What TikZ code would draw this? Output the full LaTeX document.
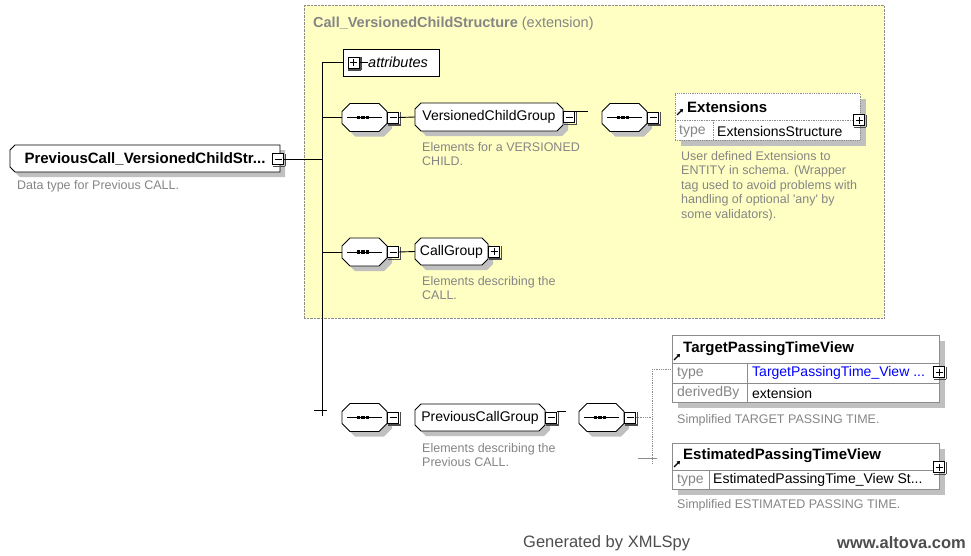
\documentclass[tikz,border=0pt]{standalone}
\usepackage{fontspec}
\setmainfont{Liberation Sans}
\usetikzlibrary{arrows.meta}
\definecolor{xsYellow}{HTML}{FFFFC4}
\definecolor{xsGray}{HTML}{858585}
\definecolor{xsGrid}{HTML}{8C8C8C}
\definecolor{xsShadow}{HTML}{C0C0C0}
\definecolor{xsBlue}{HTML}{0000FF}
\definecolor{xsFoot}{HTML}{4D4D4D}
% octagon with shadow: centre x, centre y, half width, half height, left cut, right cut
\newcommand{\xsoct}[6]{%
  \fill[xsShadow, xshift=5pt, yshift=-5pt] (#1-#3+#5,#2-#4) -- (#1+#3-#6,#2-#4) -- (#1+#3,#2-#4+#6) -- (#1+#3,#2+#4-#6)
    -- (#1+#3-#6,#2+#4) -- (#1-#3+#5,#2+#4) -- (#1-#3,#2+#4-#5) -- (#1-#3,#2-#4+#5) -- cycle;
  \filldraw[fill=white, draw=black, line width=0.8pt] (#1-#3+#5,#2-#4) -- (#1+#3-#6,#2-#4) -- (#1+#3,#2-#4+#6) -- (#1+#3,#2+#4-#6)
    -- (#1+#3-#6,#2+#4) -- (#1-#3+#5,#2+#4) -- (#1-#3,#2+#4-#5) -- (#1-#3,#2-#4+#5) -- cycle;
}
% sequence compositor
\newcommand{\xsseq}[2]{%
  \xsoct{#1}{#2}{22.5}{14}{8}{8}
  \draw[line width=0.9pt] (#1-17.5,#2) -- (#1+17.5,#2);
  \foreach \d in {-6,-1.5,3} \fill (#1+\d-1.6,#2-1.6) rectangle (#1+\d+1.6,#2+1.6);
}
\tikzset{
  xs frame/.style={draw=xsGrid, densely dotted, fill=xsYellow, inner sep=0pt},
  xs line/.style={draw=black, line width=0.9pt},
  xs grid/.style={draw=xsGrid, line width=0.7pt},
  xs dotline/.style={draw=xsGrid, densely dotted, line width=0.8pt},
  xs edge/.style={draw=black!70, line width=1.2pt},
  xs hold/.style={rectangle, inner sep=0pt},
  xs group/.style={xs hold, minimum height=28pt, font=\fontsize{14}{16}\selectfont},
  xs root/.style={xs hold, minimum width=270pt, minimum height=27pt, font=\fontsize{15}{17}\selectfont\bfseries},
  xs minus/.style={rectangle, draw, line width=0.7pt, fill=white, minimum size=11pt, inner sep=0pt,
    append after command={
      ([xshift=1.6pt,yshift=-0.4pt]\tikzlastnode.north east) edge[xs edge] ([xshift=1.6pt,yshift=-1.6pt]\tikzlastnode.south east)
      ([xshift=1.6pt,yshift=-1.6pt]\tikzlastnode.south east) edge[xs edge] ([xshift=0.4pt,yshift=-1.6pt]\tikzlastnode.south west)},
    path picture={\draw[line width=0.8pt] ([xshift=2pt]path picture bounding box.west) -- ([xshift=-2pt]path picture bounding box.east);}},
  xs plus/.style={xs minus,
    path picture={\draw[line width=0.8pt] ([xshift=2pt]path picture bounding box.west) -- ([xshift=-2pt]path picture bounding box.east);
      \draw[line width=0.8pt] ([yshift=-2pt]path picture bounding box.north) -- ([yshift=2pt]path picture bounding box.south);}},
  xs attr/.style={rectangle, draw, line width=0.8pt, fill=white, inner sep=0pt},
  xs elem/.style={rectangle, draw=xsGrid, line width=0.8pt, fill=white, inner sep=0pt},
  xs icon/.style={draw=black, line width=1.3pt, -{Triangle[length=3pt,width=4pt]}},
  xs label/.style={inner sep=0pt, font=\fontsize{14}{16}\selectfont},
  xs bold/.style={inner sep=0pt, font=\fontsize{15}{17}\selectfont\bfseries},
  xs desc/.style={inner sep=0pt, text=xsGray, align=left, font=\fontsize{12.5}{14.5}\selectfont},
  xs foot/.style={inner sep=0pt, text=xsFoot, font=\fontsize{16.5}{18}\selectfont},
}
\begin{document}
\begin{tikzpicture}[x=1pt,y=-1pt]
  \useasboundingbox (0,0) rectangle (971,555);

  % extension frame
  \node[xs frame, minimum width=580pt, minimum height=313pt] (cvcs) at (594,161.5) {};
  \node[inner sep=0pt, anchor=west, text=xsGray, font=\fontsize{14.5}{16}\selectfont] (cvcs title) at (313,24)
    {\textbf{Call\_VersionedChildStructure} (extension)};

  % root type
  \xsoct{145}{158.5}{135}{13.5}{5}{0}
  \node[xs root] (root) at (145,158.5) {PreviousCall\_VersionedChildStr...};
  \node[xs minus] (rootm) at (278,159) {};
  \node[xs desc, anchor=west] (root desc) at (17,186) {Data type for Previous CALL.};

  % trunk
  \coordinate (trunk top) at (322,62.5);
  \coordinate (trunk end) at (322,416);
  \coordinate (trunk cross) at (322,410);
  \draw[xs line] (trunk top) -- (trunk end);
  \draw[xs line] ([xshift=-8pt]trunk cross) -- ([xshift=5pt]trunk cross);
  \draw[xs line] (rootm.east) -- (rootm.east -| trunk top);

  % attributes
  \node[xs attr, minimum width=96pt, minimum height=27pt] (attr) at (391,62.5) {};
  \node[xs plus] (attrp) at (353.5,62.5) {};
  \node[xs label, anchor=west, font=\fontsize{14.5}{16}\selectfont\itshape] (attr lbl) at (368,62.5) {attributes};
  \draw[xs line] (attrp.east) -- (attr lbl.west);
  \draw[xs line] (attr.west -| trunk top) -- (attr.west);

  % versioned child group
  \xsseq{364.5}{117.5}
  \node[xs hold, minimum width=45pt, minimum height=28pt] (seqA) at (364.5,117.5) {};
  \node[xs minus, anchor=west] (seqAm) at (seqA.east) {};
  \draw[xs line] (seqA.west -| trunk top) -- (seqA.west);
  \xsoct{489}{117}{74}{14}{6}{6}
  \node[xs group, minimum width=148pt] (vcg) at (489,117) {VersionedChildGroup};
  \node[xs minus, anchor=west] (vcgm) at (vcg.east) {};
  \draw[xs line] (seqAm.east) -- (vcg.west);
  \coordinate (vcg stub) at (588,110);
  \draw[xs line] (vcgm.north east) -- (vcgm.north east -| vcg stub);
  \node[xs desc, anchor=north west] (vcg desc) at (422,142) {Elements for a VERSIONED\\CHILD.};

  \xsseq{624.5}{117.5}
  \node[xs hold, minimum width=45pt, minimum height=28pt] (seqB) at (624.5,117.5) {};
  \node[xs minus, anchor=west] (seqBm) at (seqB.east) {};

  % Extensions
  \fill[xsShadow] (681,99) rectangle (866,146);
  \node[xs elem, densely dotted, minimum width=185pt, minimum height=47pt] (ext) at (767.5,116.5) {};
  \draw[xs grid, densely dotted] (675,120) -- (860,120);
  \draw[xs grid, densely dotted] (713,120) -- (713,140);
  \node[xs plus] (extp) at (859,120) {};
  \draw[xs icon] (677,115) -- (683,109);
  \node[xs bold, anchor=west] (ext name) at (687,107) {Extensions};
  \node[xs label, text=xsGray, anchor=west] (ext type) at (679,131) {type};
  \node[xs label, anchor=west] (ext type val) at (717,131) {ExtensionsStructure};
  \node[xs desc, anchor=north west] (ext desc) at (681,151)
    {User defined Extensions to\\ENTITY in schema. (Wrapper\\tag used to avoid problems with\\handling of optional \textquotesingle any\textquotesingle{} by\\some validators).};

  % call group
  \xsseq{364.5}{252}
  \node[xs hold, minimum width=45pt, minimum height=28pt] (seqC) at (364.5,252) {};
  \node[xs minus, anchor=west] (seqCm) at (seqC.east) {};
  \draw[xs line] (seqC.west -| trunk top) -- (seqC.west);
  \xsoct{451.5}{251.5}{36.5}{13.5}{6}{6}
  \node[xs group, minimum width=73pt] (cg) at (451.5,251.5) {CallGroup};
  \node[xs plus, anchor=west] (cgp) at (cg.east) {};
  \draw[xs line] (seqCm.east) -- (cg.west);
  \node[xs desc, anchor=north west] (cg desc) at (422,276) {Elements describing the\\CALL.};

  % previous call group
  \xsseq{364.5}{417.5}
  \node[xs hold, minimum width=45pt, minimum height=28pt] (seqD) at (364.5,417.5) {};
  \node[xs minus, anchor=west] (seqDm) at (seqD.east) {};
  \xsoct{480}{417.5}{65}{13.5}{6}{6}
  \node[xs group, minimum width=130pt] (pcg) at (480,417.5) {PreviousCallGroup};
  \node[xs minus, anchor=west] (pcgm) at (pcg.east) {};
  \coordinate (pcg stub) at (566,410);
  \draw[xs line] (pcgm.north east) -- (pcgm.north east -| pcg stub);
  \node[xs desc, anchor=north west] (pcg desc) at (422,443) {Elements describing the\\Previous CALL.};

  \xsseq{601.5}{417.5}
  \node[xs hold, minimum width=45pt, minimum height=28pt] (seqE) at (601.5,417.5) {};
  \node[xs minus, anchor=west] (seqEm) at (seqE.east) {};
  \coordinate (choice top) at (652,369);
  \coordinate (choice end) at (652,463);
  \coordinate (choice cross) at (652,458);
  \draw[xs dotline] (seqEm.east) -- (seqEm.east -| choice top);
  \draw[xs dotline] (choice top) -- (choice end);
  \draw[xs grid] ([xshift=-14pt]choice cross) -- ([xshift=5pt]choice cross);

  % TargetPassingTimeView
  \fill[xsShadow] (678,341) rectangle (945,408);
  \node[xs elem, minimum width=267pt, minimum height=67pt] (tptv) at (805.5,368.5) {};
  \draw[xs dotline] (choice top) -- (choice top -| tptv.west);
  \draw[xs grid] (672,363) -- (939,363);
  \draw[xs grid] (672,383) -- (939,383);
  \draw[xs grid] (747,363) -- (747,402);
  \node[xs plus] (tptvp) at (939,372) {};
  \draw[xs icon] (674,360) -- (680,354);
  \node[xs bold, anchor=west] (tptv name) at (683,349) {TargetPassingTimeView};
  \node[xs label, text=xsGray, anchor=west] (tptv type) at (677,373) {type};
  \node[xs label, text=xsBlue, anchor=west] (tptv type val) at (752,373) {TargetPassingTime\_View ...};
  \node[xs label, text=xsGray, anchor=west] (tptv der) at (677,393) {derivedBy};
  \node[xs label, anchor=west] (tptv der val) at (752,393) {extension};
  \node[xs desc, anchor=west] (tptv desc) at (677,420) {Simplified TARGET PASSING TIME.};

  % EstimatedPassingTimeView
  \fill[xsShadow] (678,449) rectangle (945,495);
  \node[xs elem, minimum width=267pt, minimum height=46pt] (eptv) at (805.5,466) {};
  \draw[xs grid] (672,470) -- (939,470);
  \draw[xs grid] (709,470) -- (709,489);
  \node[xs plus] (eptvp) at (939,467) {};
  \draw[xs icon] (674,467) -- (680,461);
  \node[xs bold, anchor=west] (eptv name) at (683,456) {EstimatedPassingTimeView};
  \node[xs label, text=xsGray, anchor=west] (eptv type) at (677,480) {type};
  \node[xs label, anchor=west] (eptv type val) at (713,480) {EstimatedPassingTime\_View St...};
  \node[xs desc, anchor=west] (eptv desc) at (677,505) {Simplified ESTIMATED PASSING TIME.};

  % footer
  \node[xs foot, anchor=west] (gen) at (523,543) {Generated by XMLSpy};
  \node[xs foot, anchor=west, font=\fontsize{16.5}{18}\selectfont\bfseries] (altova) at (837,543) {www.altova.com};
\end{tikzpicture}
\end{document}
